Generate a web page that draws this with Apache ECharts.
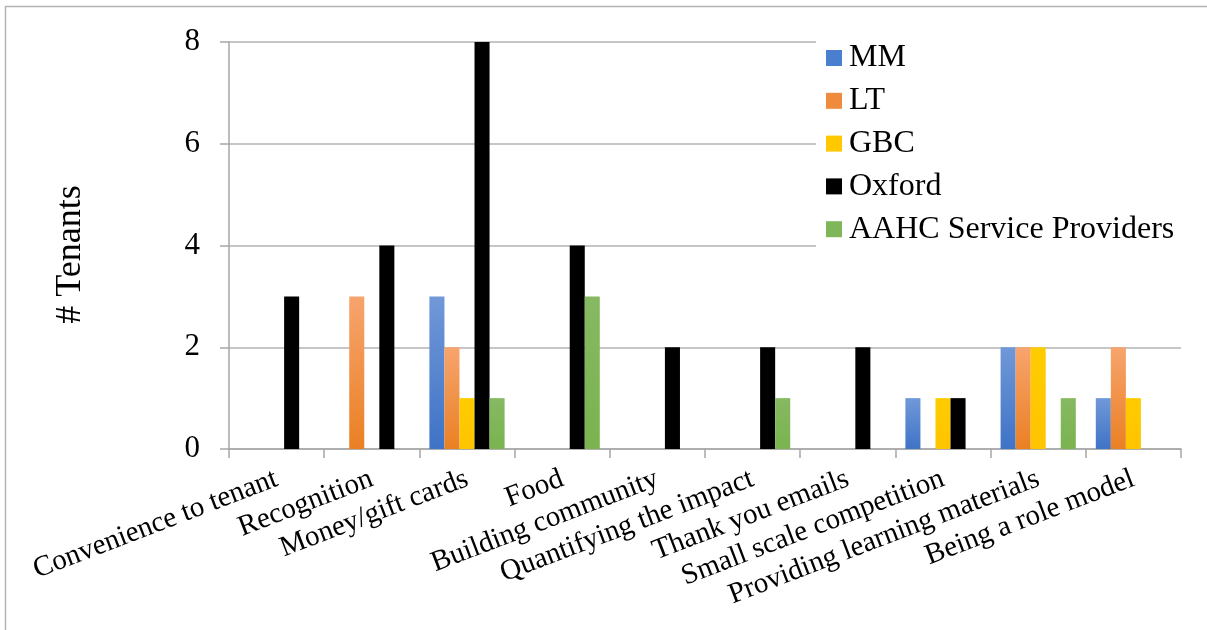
<!DOCTYPE html>
<html>
<head>
<meta charset="utf-8">
<script src="https://cdn.jsdelivr.net/npm/echarts@6/dist/echarts.min.js"></script>
<style>
  html, body { margin: 0; padding: 0; background: #fff; }
  #chart { width: 1207px; height: 630px; }
</style>
</head>
<body>
<div id="chart"></div>
<script>
// Incentive types mentioned, counted per organisation
const categories = [
  'Convenience to tenant', 'Recognition', 'Money/gift cards', 'Food',
  'Building community', 'Quantifying the impact', 'Thank you emails',
  'Small scale competition', 'Providing learning materials', 'Being a role model'
];
const seriesNames = ['MM', 'LT', 'GBC', 'Oxford', 'AAHC Service Providers'];
const mm     = [0, 0, 3, 0, 0, 0, 0, 1, 2, 1];
const lt     = [0, 3, 2, 0, 0, 0, 0, 0, 2, 2];
const gbc    = [0, 0, 1, 0, 0, 0, 0, 1, 2, 1];
const oxford = [3, 4, 8, 4, 2, 2, 2, 1, 0, 0];
const aahc   = [0, 0, 1, 3, 0, 1, 0, 0, 1, 0];
const yTicks = [0, 2, 4, 6, 8];

const serif = '"Liberation Serif", "Times New Roman", serif';

function grad(top, bottom) {
  return new echarts.graphic.LinearGradient(0, 0, 0, 1, [
    { offset: 0, color: top }, { offset: 1, color: bottom }
  ]);
}

const fills = [
  grad('#7198d8', '#3f73c6'),
  grad('#f7a46e', '#ea8024'),
  grad('#ffcc00', '#ffc400'),
  '#000000',
  grad('#86b962', '#7ab34f')
];
const legendColors = ['#4a7fd0', '#f08a3c', '#ffc800', '#000000', '#7fb65a'];
const values = [mm, lt, gbc, oxford, aahc];

const chart = echarts.init(document.getElementById('chart'), null, { renderer: 'canvas' });

chart.setOption({
  backgroundColor: '#ffffff',
  animation: false,
  textStyle: { fontFamily: serif, color: '#000' },
  graphic: [{
    type: 'rect',
    shape: { x: 5.5, y: 6.5, width: 1400, height: 800 },
    style: { fill: 'none', stroke: '#b3b3b3', lineWidth: 1.5 },
    z: -10
  }],
  grid: { left: 229, right: 26, top: 42, bottom: 181, containLabel: false },
  legend: {
    orient: 'vertical',
    left: 816,
    top: 32,
    itemWidth: 16,
    itemHeight: 16,
    itemGap: 10.8,
    padding: [10, 14, 14, 10],
    backgroundColor: '#ffffff',
    icon: 'rect',
    textStyle: { fontFamily: serif, fontSize: 32, color: '#000', padding: [0, 0, 0, 2] },
    data: seriesNames.map((n, i) => ({ name: n, itemStyle: { color: legendColors[i] } }))
  },
  xAxis: {
    type: 'category',
    data: categories,
    boundaryGap: true,
    axisLine: { lineStyle: { color: '#a6a6a6', width: 1.5 } },
    axisTick: { show: true, length: 9, alignWithLabel: false, lineStyle: { color: '#a6a6a6', width: 1.5 } },
    axisLabel: {
      interval: 0,
      rotate: 21,
      margin: 29,
      fontFamily: serif,
      fontSize: 29,
      color: '#000'
    }
  },
  yAxis: {
    type: 'value',
    min: 0,
    max: 8,
    interval: 2,
    name: '# Tenants',
    nameLocation: 'middle',
    nameGap: 140,
    nameRotate: 90,
    nameTextStyle: { fontFamily: serif, fontSize: 36, color: '#000', padding: [0, 18, 0, 0] },
    axisLine: { show: true, lineStyle: { color: '#a6a6a6', width: 1.5 } },
    axisTick: { show: true, length: 9, lineStyle: { color: '#a6a6a6', width: 1.5 } },
    splitLine: { show: true, lineStyle: { color: '#b3b3b3', width: 1.5 } },
    axisLabel: {
      margin: 29,
      fontFamily: serif,
      fontSize: 31,
      color: '#000',
      formatter: v => (yTicks.indexOf(v) >= 0 ? String(v) : '')
    }
  },
  series: seriesNames.map((name, i) => ({
    name: name,
    type: 'bar',
    data: values[i],
    barGap: '0%',
    barCategoryGap: '21%',
    itemStyle: { color: fills[i] }
  }))
});
</script>
</body>
</html>
